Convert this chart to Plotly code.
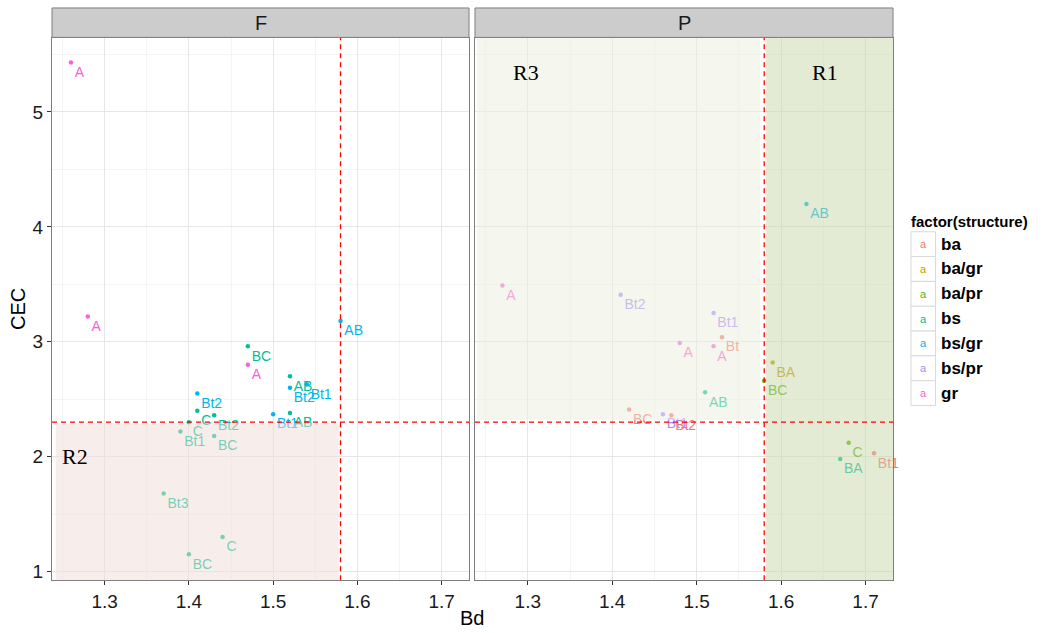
import plotly.graph_objects as go
from plotly.subplots import make_subplots

# ---- data: panel F ----
f_bd = [1.26, 1.28, 1.58, 1.47, 1.47, 1.52, 1.52, 1.54, 1.41, 1.41, 1.43, 1.50, 1.52,
        1.40, 1.39, 1.43, 1.37, 1.44, 1.40]
f_cec = [5.43, 3.22, 3.18, 2.96, 2.80, 2.70, 2.60, 2.63, 2.55, 2.40, 2.36, 2.37, 2.38,
         2.30, 2.22, 2.18, 1.68, 1.30, 1.15]
f_struct = ["gr", "gr", "bs/gr", "bs", "gr", "bs", "bs/gr", "bs/gr", "bs/gr", "bs", "bs",
            "bs/gr", "bs", "bs", "bs", "bs", "bs", "bs", "bs"]
f_label = ["A", "A", "AB", "BC", "A", "AB", "Bt2", "Bt1", "Bt2", "C", "Bt2", "Bt1", "AB",
           "C", "Bt1", "BC", "Bt3", "C", "BC"]

# ---- data: panel P ----
p_bd = [1.27, 1.41, 1.52, 1.48, 1.52, 1.53, 1.51, 1.42, 1.46, 1.47, 1.63, 1.59, 1.58,
        1.68, 1.67, 1.71]
p_cec = [3.49, 3.41, 3.25, 2.99, 2.96, 3.04, 2.56, 2.41, 2.37, 2.36, 4.20, 2.82, 2.66,
         2.12, 1.98, 2.03]
p_struct = ["gr", "bs/pr", "bs/pr", "gr", "gr", "ba", "bs", "ba", "bs/pr", "ba", "bs/gr",
            "ba/gr", "ba/pr", "ba/pr", "bs", "ba"]
p_label = ["A", "Bt2", "Bt1", "A", "A", "Bt", "AB", "BC", "Bt1", "Bt2", "AB", "BA", "BC",
           "C", "BA", "Bt1"]

structures = ["ba", "ba/gr", "ba/pr", "bs", "bs/gr", "bs/pr", "gr"]
palette = ["#F8766D", "#C49A00", "#53B400", "#00C094", "#00B6EB", "#A58AFF", "#FB61D7"]
colour_of = dict(zip(structures, palette))

panels = ["F", "P"]
x_ticks = [1.3, 1.4, 1.5, 1.6, 1.7]
y_ticks = [1, 2, 3, 4, 5]
bd_cut = 1.58
cec_cut = 2.3

W, H = 1048, 633
X_RANGE = [1.2375, 1.7325]
Y_RANGE = [0.925, 5.645]

def px_x(p):
    return p / W

def px_y(p):
    return 1 - p / H

fig = make_subplots(rows=1, cols=2, shared_yaxes=True)

for col, (bd, cec, st, lab) in enumerate(
        [(f_bd, f_cec, f_struct, f_label), (p_bd, p_cec, p_struct, p_label)], start=1):
    for s in structures:
        idx = [i for i, v in enumerate(st) if v == s]
        if not idx:
            continue
        fig.add_trace(go.Scatter(
            x=[bd[i] for i in idx], y=[cec[i] for i in idx],
            text=[lab[i] for i in idx],
            mode="markers+text", textposition="bottom right",
            marker=dict(color=colour_of[s], size=4.5),
            textfont=dict(color=colour_of[s], size=14, family="Liberation Sans, Arial"),
            showlegend=False, cliponaxis=False,
        ), row=1, col=col)

font_axis = dict(family="Liberation Sans, Arial", size=19, color="#1a1a1a")
axis_common = dict(
    showgrid=True, gridcolor="#E6E6E6", gridwidth=1,
    minor=dict(showgrid=True, gridcolor="#F4F4F4", gridwidth=1),
    showline=True, mirror=True, linecolor="#7F7F7F", linewidth=1,
    ticks="outside", ticklen=4, tickcolor="#333333",
    tickfont=font_axis, zeroline=False,
)

fig.update_xaxes(range=X_RANGE, tickvals=x_ticks, ticktext=[f"{v:.1f}" for v in x_ticks],
                 **axis_common)
fig.update_xaxes(minor_dtick=0.05, minor_tick0=1.25)
fig.update_yaxes(range=Y_RANGE, tickvals=y_ticks, ticktext=[str(v) for v in y_ticks],
                 **axis_common)
fig.update_yaxes(minor_dtick=0.5, minor_tick0=1.5)
fig.update_yaxes(showticklabels=False, ticks="", row=1, col=2)

fig.layout.xaxis.domain = [px_x(52), px_x(469)]
fig.layout.xaxis2.domain = [px_x(475), px_x(893)]
fig.layout.yaxis.domain = [px_y(582), px_y(38)]
fig.layout.yaxis2.domain = [px_y(582), px_y(38)]

shapes = []
# shaded regions, drawn over the points so marks inside them appear washed out
shapes.append(dict(type="rect", xref="x", yref="y", x0=1.242, x1=1.578, y0=Y_RANGE[0],
                   y1=2.29, fillcolor="rgba(240,222,218,0.5)", line=dict(width=0),
                   layer="above"))
shapes.append(dict(type="rect", xref="x2", yref="y2", x0=1.240, x1=1.575, y0=2.32,
                   y1=Y_RANGE[1], fillcolor="rgba(236,238,220,0.5)", line=dict(width=0),
                   layer="above"))
shapes.append(dict(type="rect", xref="x2", yref="y2", x0=1.582, x1=X_RANGE[1],
                   y0=Y_RANGE[0], y1=Y_RANGE[1], fillcolor="rgba(200,216,170,0.5)",
                   line=dict(width=0), layer="above"))
# threshold lines
red_dash = dict(color="rgb(255,0,0)", width=1.3, dash="5px,4px")
for xr, yr in [("x", "y"), ("x2", "y2")]:
    shapes.append(dict(type="line", xref=xr, yref=yr, x0=bd_cut, x1=bd_cut,
                       y0=Y_RANGE[0], y1=Y_RANGE[1], line=red_dash, layer="above"))
    shapes.append(dict(type="line", xref=xr, yref=yr, x0=X_RANGE[0], x1=X_RANGE[1],
                       y0=cec_cut, y1=cec_cut, line=red_dash, layer="above"))
# facet strips
for x0, x1 in [(52, 469), (475, 893)]:
    shapes.append(dict(type="rect", xref="paper", yref="paper",
                       x0=px_x(x0), x1=px_x(x1), y0=px_y(37.5), y1=px_y(8),
                       fillcolor="#CCCCCC", line=dict(color="#7F7F7F", width=1)))

annotations = []
for name, (x0, x1) in zip(panels, [(52, 469), (475, 893)]):
    annotations.append(dict(text=name, xref="paper", yref="paper",
                            x=px_x((x0 + x1) / 2), y=px_y(23), showarrow=False,
                            font=dict(family="Liberation Sans, Arial", size=20,
                                      color="#1a1a1a"),
                            xanchor="center", yanchor="middle"))

# region labels
region_font = dict(family="Liberation Serif, Times New Roman, serif", size=22, color="black")
for txt, xr, yr, xv, yv in [("R3", "x2", "y2", 1.298, 5.34), ("R1", "x2", "y2", 1.652, 5.34),
                            ("R2", "x", "y", 1.265, 2.0)]:
    annotations.append(dict(text=txt, xref=xr, yref=yr, x=xv, y=yv, showarrow=False,
                            font=region_font, xanchor="center", yanchor="middle"))

# axis titles
annotations.append(dict(text="Bd", xref="paper", yref="paper", x=px_x(472), y=px_y(620),
                        showarrow=False, xanchor="center", yanchor="middle",
                        font=dict(family="Liberation Sans, Arial", size=20, color="black")))
annotations.append(dict(text="CEC", xref="paper", yref="paper", x=px_x(18), y=px_y(310),
                        showarrow=False, xanchor="center", yanchor="middle", textangle=-90,
                        font=dict(family="Liberation Sans, Arial", size=20, color="black")))

# legend
annotations.append(dict(text="<b>factor(structure)</b>", xref="paper", yref="paper",
                        x=px_x(909), y=px_y(222), showarrow=False, xanchor="left",
                        yanchor="middle",
                        font=dict(family="Liberation Sans, Arial", size=15, color="black")))
row_h = 24.9
top0 = 232.5
for i, (s, c) in enumerate(zip(structures, palette)):
    t = top0 + i * row_h
    shapes.append(dict(type="rect", xref="paper", yref="paper",
                       x0=px_x(911), x1=px_x(935.5), y0=px_y(t + row_h), y1=px_y(t),
                       fillcolor="white", line=dict(color="#D9D9D9", width=1)))
    annotations.append(dict(text="a", xref="paper", yref="paper", x=px_x(923),
                            y=px_y(t + row_h / 2), showarrow=False, xanchor="center",
                            yanchor="middle",
                            font=dict(family="Liberation Sans, Arial", size=11, color=c)))
    annotations.append(dict(text=f"<b>{s}</b>", xref="paper", yref="paper", x=px_x(939),
                            y=px_y(t + row_h / 2), showarrow=False, xanchor="left",
                            yanchor="middle",
                            font=dict(family="Liberation Sans, Arial", size=17,
                                      color="black")))

fig.update_layout(
    width=W, height=H, margin=dict(l=0, r=0, t=0, b=0),
    paper_bgcolor="white", plot_bgcolor="white",
    shapes=shapes, annotations=annotations, showlegend=False,
)

fig.write_html("out.html")
